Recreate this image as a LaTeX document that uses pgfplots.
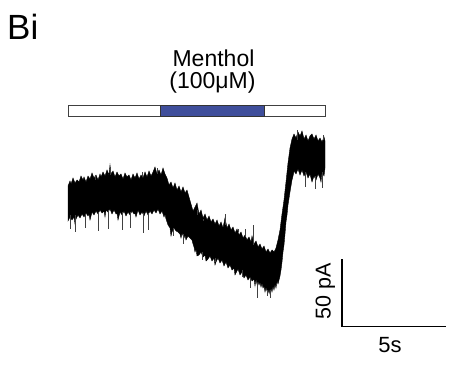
\documentclass[border=0pt]{standalone}
\usepackage{pgfplots}
\pgfplotsset{compat=1.18}
\usepackage{fontspec}
\setmainfont{Liberation Sans}
\definecolor{menthol}{RGB}{63,78,155}
\begin{document}
\begin{tikzpicture}
\begin{axis}[
  width=450pt, height=366pt, scale only axis,
  xmin=0, xmax=450, ymin=0, ymax=366, y dir=reverse,
  hide axis, clip=false, unbounded coords=jump]
\path (rel axis cs:0,0) rectangle (rel axis cs:1,1);
% stimulus bar
\addplot[fill=white, draw=black!75, line width=1pt] coordinates {(68,105.5) (325,105.5) (325,116.5) (68,116.5)} -- cycle;
\addplot[fill=menthol, draw=black!80, line width=1pt] coordinates {(160.5,105.5) (264.5,105.5) (264.5,116.5) (160.5,116.5)} -- cycle;
% current trace (envelope of the noisy recording)
\addplot[fill=black, draw=black, line width=0.4pt] coordinates {
(68,186) (70,181) (71,184) (73,178) (75,183) (77,180) (79,182) (81,176) (83,180) (84,177)
(86,182) (88,176) (90,179) (92,173) (94,178) (96,175) (98,180) (100,174) (101,177) (103,172)
(105,176) (107,170) (109,175) (110,165) (111,174) (113,171) (115,177) (117,172) (119,176) (121,174)
(123,179) (125,173) (127,177) (129,175) (131,180) (133,174) (135,178) (137,173) (139,179) (141,175)
(143,178) (145,172) (147,177) (149,171) (151,176) (153,172) (155,167) (157,174) (159,170) (161,175)
(163,168) (165,174) (167,178) (169,185) (171,182) (173,188) (175,183) (177,190) (179,186) (181,192)
(183,187) (185,193) (187,190) (189,197) (191,204) (193,211) (195,207) (197,203) (199,214) (201,210)
(203,218) (205,214) (207,220) (209,216) (211,222) (213,219) (215,224) (217,220) (219,226) (221,222)
(223,228) (225,218) (227,228) (229,224) (231,230) (233,227) (235,233) (237,229) (239,235) (241,232)
(243,238) (245,235) (247,240) (249,237) (251,242) (252,236) (254,244) (256,241) (258,247) (260,244)
(262,249) (264,246) (266,252) (268,249) (270,253) (272,250) (274,252) (276,248) (278,240) (280,230)
(282,214) (284,200) (286,182) (288,163) (290,148) (292,139) (294,134) (296,138) (298,132) (300,136)
(302,131) (304,139) (306,135) (308,141) (310,136) (312,134) (314,139) (316,135) (318,141) (320,138)
(322,142) (324,137) (325,141)
(325,168) (324,176) (322,172) (321,182) (320,178) (318,174) (316,180) (314,176) (312,182) (310,174)
(308,178) (306,172) (304,176) (302,170) (300,175) (298,169) (296,174) (294,171) (293,176) (292,180)
(291,186) (290,192) (288,205) (287,215) (286,222) (285,234) (284,245) (283,252) (282,262) (281,270)
(280,276) (279,280) (278,284) (277,281) (276,288) (275,284) (274,290) (273,286) (272,292) (271,288)
(270,294) (269,289) (268,293) (267,291) (266,287) (265,292) (264,286) (263,288) (262,283) (261,287)
(260,282) (259,285) (258,281) (257,284) (256,279) (255,286) (254,279) (252,281) (250,277) (248,280)
(246,275) (244,278) (242,272) (240,275) (238,269) (236,273) (235,275) (234,268) (232,270) (230,265)
(228,268) (226,262) (224,266) (222,260) (220,263) (218,258) (216,262) (215,265) (214,258) (212,261)
(210,256) (208,259) (206,261) (205,255) (203,257) (201,252) (199,255) (197,256) (196,249) (195,252)
(194,247) (193,244) (192,240) (190,238) (188,236) (186,240) (185,235) (184,238) (182,233) (181,238)
(180,234) (178,232) (176,231) (174,228) (172,232) (171,236) (170,228) (168,225) (166,219) (165,214)
(164,217) (162,211) (160,214) (158,209) (156,213) (154,210) (152,214) (150,211) (148,215) (146,211)
(144,216) (142,212) (140,215) (138,210) (136,217) (135,213) (134,214) (132,211) (130,215) (128,212)
(126,216) (124,211) (122,215) (120,212) (118,220) (117,213) (116,214) (114,210) (112,214) (110,209)
(108,212) (106,210) (105,217) (104,211) (102,213) (100,210) (98,214) (96,211) (94,215) (92,212)
(90,220) (89,214) (88,216) (86,213) (84,217) (82,214) (80,218) (78,215) (76,219) (75,224)
(74,217) (72,220) (70,217) (68,221)
} -- cycle;
% thin noise spikes of the trace
\addplot[black!75, line width=0.8pt] coordinates {
(70,215) (70,229) (70,nan)
(75,215) (75,232) (75,nan)
(85,214) (85,228) (85,nan)
(98,212) (98,231) (98,nan)
(108,210) (108,229) (108,nan)
(122,212) (122,230) (122,nan)
(130,212) (130,228) (130,nan)
(143,213) (143,233) (143,nan)
(148,213) (148,230) (148,nan)
(95,180) (95,175) (95,nan)
(110,175) (110,167) (110,nan)
(142,177) (142,172) (142,nan)
(157,174) (157,168) (157,nan)
(173,228) (173,236) (173,nan)
(183,234) (183,244) (183,nan)
(197,215) (197,210) (197,nan)
(203,221) (203,219) (203,nan)
(202,252) (202,260) (202,nan)
(215,258) (215,262) (215,nan)
(225,225) (225,214) (225,nan)
(238,232) (238,229) (238,nan)
(245,237) (245,229) (245,nan)
(253,245) (253,225) (253,nan)
(242,270) (242,277) (242,nan)
(250,278) (250,288) (250,nan)
(257,283) (257,298) (257,nan)
(267,290) (267,296) (267,nan)
(270,290) (270,298) (270,nan)
(297,140) (297,130) (297,nan)
(323,140) (323,135) (323,nan)
(305,172) (305,187) (305,nan)
(315,176) (315,189) (315,nan)
(322,172) (322,188) (322,nan)
};
% scale bars
\addplot[black, line width=1.3pt] coordinates {(342,259.5) (342,326.5) (446,326.5)};
% texts
\node[anchor=base west, inner sep=0pt, font=\fontsize{35}{40}\selectfont] at (axis cs:7,40) {Bi};
\node[anchor=base, inner sep=0pt, font=\fontsize{23}{27}\selectfont] at (axis cs:213.5,66.7) {Menthol};
\node[anchor=base, inner sep=0pt, font=\fontsize{23}{27}\selectfont] at (axis cs:212.5,88.3) {(100μM)};
\node[anchor=base, inner sep=0pt, rotate=90, font=\fontsize{21.5}{25}\selectfont] at (axis cs:330.5,291) {50 pA};
\node[anchor=base, inner sep=0pt, font=\fontsize{22}{26}\selectfont] at (axis cs:390,352.7) {5s};
\end{axis}
\end{tikzpicture}
\end{document}
